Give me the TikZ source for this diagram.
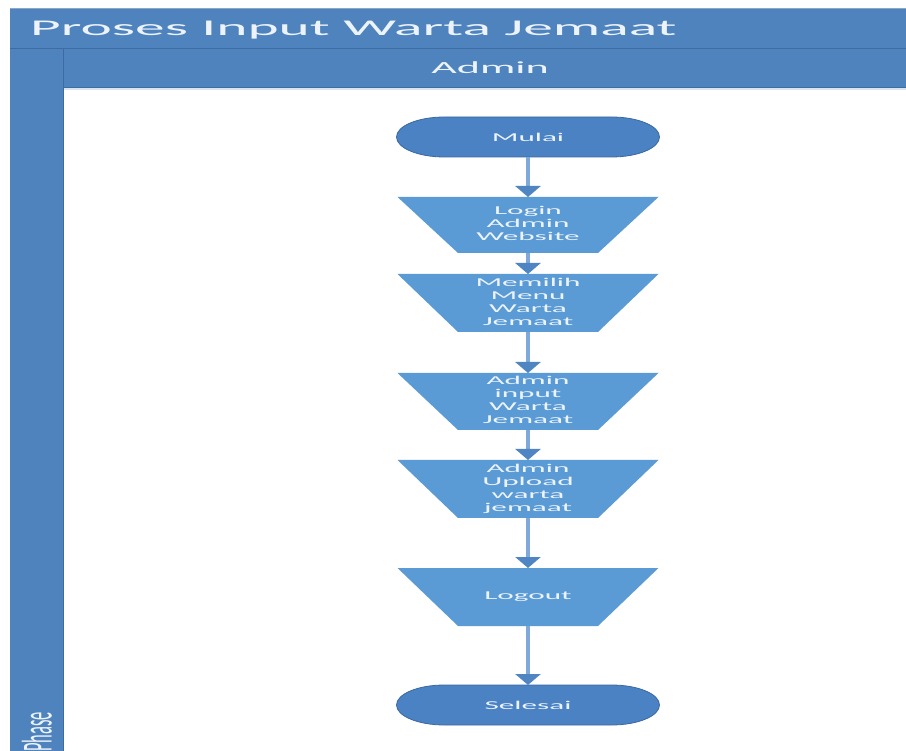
\documentclass[tikz,border=0pt]{standalone}
\usepackage{fontspec}
\setmainfont{Carlito}
\usepackage{graphicx}
\usetikzlibrary{arrows.meta}
\definecolor{hdr}{RGB}{79,131,189}
\definecolor{hdrline}{RGB}{62,108,162}
\definecolor{trap}{RGB}{91,155,213}
\definecolor{term}{RGB}{74,130,196}
\definecolor{termline}{RGB}{58,104,160}
\definecolor{shaft}{RGB}{128,168,218}
\definecolor{tipc}{RGB}{80,133,196}
\definecolor{txt}{RGB}{236,243,251}
\newcommand\hs[1]{\scalebox{2.6}[1]{#1}}
\newcommand\ml[1]{\hs{\begin{tabular}{@{}c@{}}#1\end{tabular}}}
\pgfdeclarelayer{bglayer}
\pgfdeclarelayer{shapelayer}
\pgfsetlayers{bglayer,shapelayer,main}
\begin{document}
\begin{tikzpicture}[x=1pt,y=-1pt,
  stepbox/.style={minimum width=261pt, inner sep=0pt, outer sep=0pt, text=txt, font=\fontsize{12}{13}\selectfont},
  termbox/.style={minimum width=263pt, minimum height=40pt, inner sep=0pt, outer sep=0pt, text=txt, font=\fontsize{12}{13}\selectfont},
  flow/.style={draw=shaft, line width=4pt, -{Triangle[width=25pt,length=11pt,fill=tipc,color=tipc]}},
  trapfill/.style={fill=trap},
  termfill/.style={fill=term, draw=termline, line width=0.8pt}]
\useasboundingbox (0,0) rectangle (906,751);

% frame
\begin{pgfonlayer}{bglayer}
\fill[white] (0,0) rectangle (906,751);
\fill[hdr] (10,8) rectangle (906,751);
\fill[white] (63,87) rectangle (906,751);
\fill[hdr!22] (63,87) rectangle (906,90);
\draw[hdrline, line width=0.8pt] (10,48) -- (906,48);
\draw[hdrline, line width=0.8pt] (63,48) -- (63,751);
\draw[hdrline, line width=0.8pt] (63,87) -- (906,87);
\draw[hdrline!60, line width=0.5pt] (10,8) -- (906,8);
\end{pgfonlayer}

% texts of frame
\node[anchor=base west, inner sep=0pt, text=txt, font=\fontsize{22.5}{26}\selectfont] (title) at (30,36) {\scalebox{2.64}[1]{Proses Input Warta Jemaat}};
\node[inner sep=0pt, text=txt, font=\fontsize{17}{20}\selectfont] (lane) at (490,67.5) {\hs{Admin}};
\node[inner sep=0pt, text=txt, font=\fontsize{16.5}{19}\selectfont] (phase) at (37,732) {\rotatebox{90}{\scalebox{1}[2.6]{Phase}}};

% nodes
\node[termbox] (mulai) at (528,137) {\hs{Mulai}};
\node[stepbox, minimum height=56pt] (login) at (528,225) {\ml{Login\\Admin\\Website}};
\node[stepbox, minimum height=58pt] (memilih) at (528,303) {\ml{Memilih\\Menu\\Warta\\Jemaat}};
\node[stepbox, minimum height=57pt] (input) at (528,401.5) {\ml{Admin\\input\\Warta\\Jemaat}};
\node[stepbox, minimum height=58pt] (upload) at (528,489) {\ml{Admin\\Upload\\warta\\jemaat}};
\node[stepbox, minimum height=58pt] (logout) at (528,597) {\hs{Logout}};
\node[termbox] (selesai) at (528,705) {\hs{Selesai}};

% shapes
\begin{pgfonlayer}{shapelayer}
\foreach \n in {login,memilih,input,upload,logout}{
  \fill[trapfill] (\n.north west) -- (\n.north east) -- ([xshift=-60.5pt]\n.south east) -- ([xshift=60.5pt]\n.south west) -- cycle;
}
\foreach \n in {mulai,selesai}{
  \path[termfill] ([xshift=48pt]\n.north west) -- ([xshift=-48pt]\n.north east)
     arc[start angle=90, end angle=-90, x radius=48pt, y radius=20pt]
     -- ([xshift=48pt]\n.south west)
     arc[start angle=270, end angle=90, x radius=48pt, y radius=20pt] -- cycle;
}
\end{pgfonlayer}

% connectors
\draw[flow] (mulai) -- (login);
\draw[flow] (login) -- (memilih);
\draw[flow] (memilih) -- (input);
\draw[flow] (input) -- (upload);
\draw[flow] (upload) -- (logout);
\draw[flow] (logout) -- (selesai);
\end{tikzpicture}
\end{document}
